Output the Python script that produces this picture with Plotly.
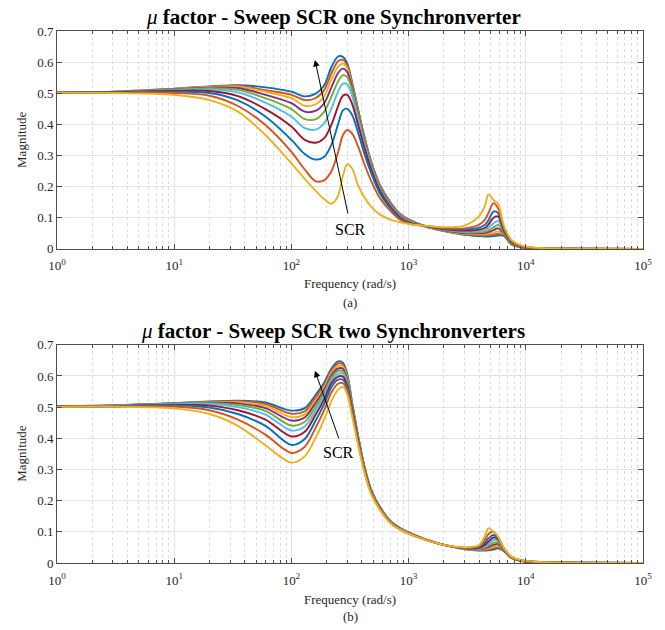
import plotly.graph_objects as go

freq = [1, 3, 10, 20, 35, 60, 100, 130, 160, 190, 220, 250, 275, 300, 330, 370, 420, 480,
        570, 700, 850, 1000, 1400, 2000, 3000, 4000, 4500, 4800, 5300, 5800, 6500, 7500,
        9000, 12000, 20000, 100000]

# (a) one Synchronverter, curves ordered from highest SCR (top) to lowest
one_c0 = [.502, .505, .515, .522, .526, .519, .505, .490, .498, .525, .585, .618, .617, .595, .535, .45, .36, .28, .205, .15, .112, .095,
          .072, .057, .045, .041, .040, .040, .041, .043, .042, .015, .005, .002, .0005, 0]
one_c1 = [.502, .505, .514, .521, .524, .510, .495, .478, .484, .510, .565, .603, .607, .588, .530, .445, .356, .277, .203, .148, .110, .094,
          .072, .058, .047, .044, .043, .044, .046, .048, .045, .017, .005, .002, .0005, 0]
one_c2 = [.502, .504, .514, .520, .521, .505, .484, .460, .464, .490, .545, .585, .595, .580, .525, .44, .352, .274, .200, .146, .108, .092,
          .072, .059, .049, .047, .047, .049, .052, .056, .048, .018, .006, .002, .0005, 0]
one_c3 = [.502, .504, .513, .518, .517, .495, .468, .441, .443, .468, .520, .565, .579, .568, .518, .435, .348, .271, .198, .144, .106, .090,
          .072, .060, .051, .050, .051, .054, .060, .066, .050, .019, .006, .002, .0005, 0]
one_c4 = [.502, .504, .512, .516, .511, .484, .449, .417, .416, .440, .490, .538, .558, .552, .508, .428, .343, .267, .195, .141, .104, .088,
          .072, .061, .053, .053, .055, .060, .069, .077, .052, .020, .006, .002, .0005, 0]
one_c5 = [.502, .503, .510, .512, .503, .470, .425, .388, .383, .403, .452, .505, .531, .528, .490, .418, .336, .262, .191, .138, .102, .087,
          .073, .062, .056, .057, .061, .068, .082, .090, .055, .021, .007, .002, .0005, 0]
one_c6 = [.502, .503, .508, .507, .491, .449, .393, .350, .341, .355, .400, .458, .492, .495, .465, .400, .325, .255, .186, .135, .100, .085,
          .073, .064, .059, .062, .068, .078, .100, .104, .058, .022, .007, .002, .0005, 0]
one_c7 = [.502, .503, .505, .501, .477, .425, .350, .305, .287, .295, .335, .400, .445, .450, .430, .375, .305, .243, .178, .130, .097, .083,
          .073, .065, .062, .068, .078, .092, .120, .115, .062, .024, .008, .003, .0005, 0]
one_c8 = [.502, .502, .501, .492, .459, .398, .312, .255, .218, .220, .250, .310, .365, .382, .370, .330, .272, .218, .163, .122, .093, .081,
          .074, .067, .066, .078, .095, .115, .147, .130, .068, .026, .009, .003, .0005, 0]
one_c9 = [.502, .501, .495, .478, .441, .366, .275, .225, .188, .160, .145, .170, .235, .272, .258, .205, .165, .135, .110, .094, .085, .080,
          .074, .070, .075, .105, .140, .175, .157, .145, .075, .030, .012, .004, .001, 0]

# (b) two Synchronverters
two_c0 = [.502, .506, .513, .518, .521, .515, .489, .497, .538, .578, .625, .647, .643, .605, .515, .410, .310, .235, .180, .135, .112, .098,
          .076, .058, .044, .040, .040, .041, .043, .047, .038, .016, .007, .003, .001, 0]
two_c1 = [.502, .505, .513, .517, .519, .510, .479, .487, .530, .571, .618, .640, .637, .600, .512, .408, .309, .234, .179, .134, .111, .098,
          .076, .058, .045, .042, .042, .044, .047, .051, .040, .017, .007, .003, .001, 0]
two_c2 = [.502, .505, .512, .516, .516, .504, .468, .477, .521, .563, .611, .632, .630, .594, .508, .405, .307, .233, .178, .133, .110, .097,
          .076, .058, .045, .043, .044, .047, .052, .056, .041, .017, .007, .003, .001, 0]
two_c3 = [.502, .505, .512, .515, .512, .497, .457, .467, .512, .555, .603, .624, .623, .588, .504, .403, .305, .231, .177, .132, .110, .097,
          .075, .058, .046, .044, .047, .051, .058, .061, .042, .018, .007, .003, .001, 0]
two_c4 = [.502, .504, .511, .513, .507, .488, .441, .453, .500, .546, .595, .616, .615, .582, .500, .400, .303, .230, .176, .132, .109, .096,
          .075, .058, .046, .045, .050, .056, .065, .066, .043, .018, .008, .003, .001, 0]
two_c5 = [.502, .504, .510, .510, .500, .476, .425, .438, .488, .536, .587, .607, .607, .576, .496, .398, .301, .228, .175, .131, .109, .096,
          .075, .058, .047, .047, .054, .062, .074, .072, .044, .019, .008, .003, .001, 0]
two_c6 = [.502, .503, .508, .505, .490, .460, .406, .421, .474, .524, .577, .598, .598, .569, .492, .395, .299, .227, .174, .130, .108, .095,
          .075, .058, .047, .049, .059, .069, .082, .076, .045, .019, .008, .003, .001, 0]
two_c7 = [.502, .503, .506, .499, .478, .440, .379, .398, .455, .510, .565, .588, .588, .562, .487, .392, .297, .225, .173, .130, .108, .095,
          .074, .058, .048, .051, .066, .079, .090, .080, .046, .020, .008, .004, .001, 0]
two_c8 = [.502, .502, .502, .490, .460, .412, .353, .373, .432, .490, .548, .575, .577, .552, .480, .387, .294, .223, .172, .129, .107, .094,
          .074, .058, .049, .054, .076, .093, .100, .083, .047, .020, .009, .004, .001, 0]
two_c9 = [.501, .502, .496, .478, .440, .378, .322, .342, .400, .460, .520, .556, .565, .540, .470, .380, .290, .220, .170, .128, .107, .094,
          .074, .058, .050, .058, .090, .112, .100, .085, .048, .021, .009, .004, .001, 0]

one_series = [one_c0, one_c1, one_c2, one_c3, one_c4, one_c5, one_c6, one_c7, one_c8, one_c9]
two_series = [two_c0, two_c1, two_c2, two_c3, two_c4, two_c5, two_c6, two_c7, two_c8, two_c9]

colors = ['#0072BD', '#D95319', '#EDB120', '#7E2F8E', '#77AC30', '#4DBEEE', '#A2142F',
          '#0072BD', '#D95319', '#EDB120']

xticks = [1, 10, 100, 1000, 10000, 100000]
xticktext = ['10<sup>0</sup>', '10<sup>1</sup>', '10<sup>2</sup>', '10<sup>3</sup>', '10<sup>4</sup>', '10<sup>5</sup>']
yticks = [0, 0.1, 0.2, 0.3, 0.4, 0.5, 0.6, 0.7]
yticktext = ['0', '0.1', '0.2', '0.3', '0.4', '0.5', '0.6', '0.7']

FONT = 'Liberation Serif'
OFF = 8  # page body margin offset
W, H = 665 - OFF, 630 - OFF
ML, MT = 57 - OFF, 31 - OFF
MR = W - (643 - OFF)
MB = H - (563.3 - OFF)
PW, PH = W - ML - MR, H - MT - MB

def px(xp):
    return (xp - OFF - ML) / PW

def py(yp):
    return (H - MB - (yp - OFF)) / PH

fig = go.Figure()
for s, c in zip(one_series, colors):
    fig.add_trace(go.Scatter(x=freq, y=s, mode='lines', line=dict(color=c, width=1.9, shape='spline', smoothing=0.9),
                             xaxis='x', yaxis='y', showlegend=False, hoverinfo='skip'))
for s, c in zip(two_series, colors):
    fig.add_trace(go.Scatter(x=freq, y=s, mode='lines', line=dict(color=c, width=1.9, shape='spline', smoothing=0.9),
                             xaxis='x2', yaxis='y2', showlegend=False, hoverinfo='skip'))

minor_vals = [k * 10 ** d for d in range(5) for k in range(2, 10)]
axcol = '#4d4d4d'

def xax(anchor):
    return dict(type='log', range=[0, 5], domain=[0, 1], anchor=anchor, automargin=False,
                tickmode='array', tickvals=xticks, ticktext=xticktext, ticklabelstandoff=5,
                ticks='inside', ticklen=5, tickcolor=axcol, showline=True, linecolor=axcol, linewidth=1,
                mirror='ticks', showgrid=True, gridcolor='#e3e3e3', gridwidth=1, zeroline=False,
                tickfont=dict(family=FONT, size=13, color='#262626'),
                minor=dict(tickmode='array', tickvals=minor_vals, ticks='inside', ticklen=3, tickcolor=axcol,
                           showgrid=True, griddash='dot', gridcolor='#dcdcdc', gridwidth=1))

def yax(anchor, dom):
    return dict(range=[0, 0.7], domain=dom, anchor=anchor, automargin=False,
                tickmode='array', tickvals=yticks, ticktext=yticktext,
                ticks='inside', ticklen=5, tickcolor=axcol, showline=True, linecolor=axcol, linewidth=1,
                mirror='ticks', showgrid=True, gridcolor='#e3e3e3', gridwidth=1, zeroline=False,
                tickfont=dict(family=FONT, size=13, color='#262626'))

y1dom = [py(249), min(1, py(31))]
y2dom = [max(0, py(563.3)), py(345)]

annotations = []
def txt(x, y, t, size=13, angle=0, color='#262626'):
    annotations.append(dict(x=px(x), y=py(y), xref='paper', yref='paper', text=t, showarrow=False,
                            font=dict(family=FONT, size=size, color=color), textangle=angle,
                            xanchor='center', yanchor='middle'))

txt(333, 17, '<i>μ</i> <b>factor - Sweep SCR one Synchronverter</b>', size=21, color='black')
txt(333, 331, '<i>μ</i> <b>factor - Sweep SCR two Synchronverters</b>', size=21, color='black')
txt(350, 284, 'Frequency (rad/s)')
txt(350, 303, '(a)')
txt(350, 600, 'Frequency (rad/s)')
txt(350, 617, '(b)')
txt(22, 140, 'Magnitude', angle=-90)
txt(22, 454, 'Magnitude', angle=-90)

# arrows (head, tail) in axis coordinates (log10 x)
annotations.append(dict(x=2.201, y=0.607, ax=2.485, ay=0.109, xref='x', yref='y', axref='x', ayref='y',
                        text='', showarrow=True, arrowhead=2, arrowsize=1.3, arrowwidth=1, arrowcolor='black'))
annotations.append(dict(x=2.504, y=0.063, xref='x', yref='y', text='SCR', showarrow=False,
                        font=dict(family=FONT, size=16, color='black')))
annotations.append(dict(x=2.201, y=0.617, ax=2.409, ay=0.395, xref='x2', yref='y2', axref='x2', ayref='y2',
                        text='', showarrow=True, arrowhead=2, arrowsize=1.3, arrowwidth=1, arrowcolor='black'))
annotations.append(dict(x=2.406, y=0.354, xref='x2', yref='y2', text='SCR', showarrow=False,
                        font=dict(family=FONT, size=16, color='black')))

fig.update_layout(width=W, height=H, margin=dict(l=ML, r=MR, t=MT, b=MB, autoexpand=False),
                  paper_bgcolor='white', plot_bgcolor='white',
                  xaxis=xax('y'), yaxis=yax('x', y1dom),
                  xaxis2=xax('y2'), yaxis2=yax('x2', y2dom),
                  annotations=annotations)

fig.write_html('out.html')
